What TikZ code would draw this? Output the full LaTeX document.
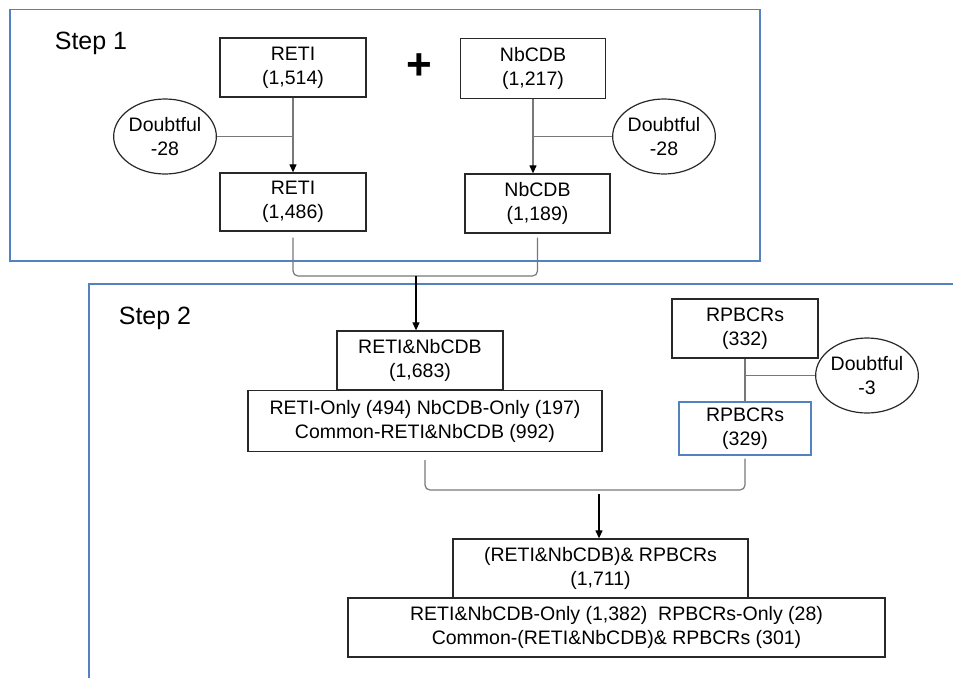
\documentclass[tikz,border=0pt]{standalone}
\usepackage{fontspec}
\setmainfont{Liberation Sans}
\usetikzlibrary{arrows.meta}
\usetikzlibrary{shapes.geometric}

\definecolor{framblue}{RGB}{84,130,190}
\definecolor{linegray}{RGB}{120,120,120}
\definecolor{boxdark}{RGB}{40,40,40}

\tikzset{
    databox/.style={draw=boxdark,line width=1.3pt,align=center,inner sep=0pt,
        font=\fontsize{19.5}{24}\selectfont},
    doubt/.style={ellipse,draw=boxdark,line width=1.2pt,align=center,inner sep=0pt,
        minimum width=102pt,minimum height=75pt,font=\fontsize{19.5}{24}\selectfont},
    conn/.style={draw=linegray,line width=1.2pt},
    stepframe/.style={draw=framblue,line width=1.5pt},
    steplabel/.style={font=\fontsize{25}{30}\selectfont}
}

\begin{document}
\begin{tikzpicture}[x=1pt,y=-1pt,>={Triangle[length=8pt,width=7pt,color=black]}]
            \useasboundingbox (0,0) rectangle (953,678);
            % step 1
            \draw[stepframe] (10,9.5) rectangle (760,261);
            \node[steplabel] (stepone) at (91,43) {Step 1};
            \node[databox,minimum width=146pt,minimum height=59pt] (reti1) at (293,67.5) {RETI\\(1,514)};
            \node[databox,minimum width=145pt,minimum height=60pt] (nbcdb1) at (533,68.5) {NbCDB\\(1,217)};
            \node[font=\fontsize{44}{44}\selectfont\bfseries] (plus) at (419.5,66.5) {+};
            \node[doubt] (doubtA) at (165,136.5) {Doubtful\\-28};
            \node[doubt] (doubtB) at (664,136.5) {Doubtful\\-28};
            \node[databox,minimum width=146pt,minimum height=58pt] (reti2) at (293,202) {RETI\\(1,486)};
            \node[databox,minimum width=145pt,minimum height=59pt] (nbcdb2) at (537.5,203.5) {NbCDB\\(1,189)};
            \draw[conn,->] (reti1.south) -- (reti2.north);
            \draw[conn] (doubtA.east) -- (reti1.south |- doubtA.east);
            \draw[conn,->] (nbcdb1.south) -- (nbcdb1.south |- nbcdb2.north);
            \draw[conn] (doubtB.west) -- (nbcdb1.south |- doubtB.west);
            % step 2
            \draw[stepframe] (89,678) -- (89,284) -- (953,284);
            \node[steplabel] (steptwo) at (155,318) {Step 2};
            \node[databox,minimum width=166pt,minimum height=59pt] (merged) at (420,360.5) {RETI\&NbCDB\\(1,683)};
            \node[databox,minimum width=354pt,minimum height=61pt] (split) at (425,421) {RETI-Only (494) NbCDB-Only (197)\\Common-RETI\&NbCDB (992)};
            \node[databox,minimum width=146pt,minimum height=59pt] (rpb1) at (745,328.5) {RPBCRs\\(332)};
            \node[doubt] (doubtC) at (867,375.5) {Doubtful\\-3};
            \node[databox,draw=framblue,line width=1.2pt,minimum width=132pt,minimum height=53pt] (rpb2) at (745,428.5) {RPBCRs\\(329)};
            \draw[conn] (rpb1.south) -- (rpb2.north);
            \draw[conn] (doubtC.west) -- (rpb1.south |- doubtC.west);
            \node[databox,minimum width=295pt,minimum height=59pt] (final) at (600.5,568.5) {(RETI\&NbCDB)\& RPBCRs\\(1,711)};
            \node[databox,minimum width=537pt,minimum height=59pt] (finalsplit) at (616.5,627.5) {RETI\&NbCDB-Only (1,382)~ RPBCRs-Only (28)\\Common-(RETI\&NbCDB)\& RPBCRs (301)};
            % joins
            \coordinate (joinA) at (416,276);
            \coordinate (joinB) at (599,490);
            \draw[conn,rounded corners=5pt] ([yshift=-6pt]reti2.south) |- (joinA) -| ([yshift=-4pt]nbcdb2.south);
            \draw[conn,draw=black,->] (joinA) -- (joinA |- merged.north);
            \draw[conn,rounded corners=5pt] ([yshift=-8pt]split.south) |- (joinB) -| ([yshift=-3pt]rpb2.south);
            \draw[conn,draw=black,->] ([yshift=-4pt]joinB) -- (joinB |- final.north);
        \end{tikzpicture}
\end{document}
